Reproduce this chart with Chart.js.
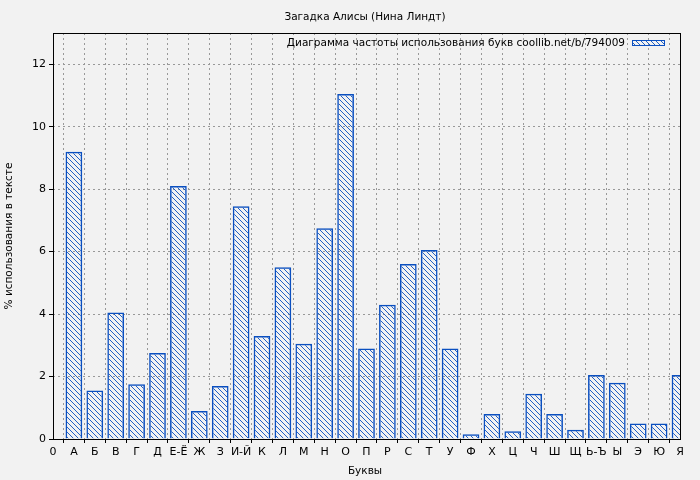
<!DOCTYPE html>
<html><head><meta charset="utf-8">
<script src="https://cdn.jsdelivr.net/npm/chart.js@4/dist/chart.umd.min.js"></script>
<style>body{margin:0;background:#f2f2f2}canvas{display:block}</style>
</head><body>
<div style="width:700px;height:480px"><canvas id="c"></canvas></div>
<script>
const letters = ["0","А","Б","В","Г","Д","Е-Ё","Ж","З","И-Й","К","Л","М","Н","О","П","Р","С","Т","У","Ф","Х","Ц","Ч","Ш","Щ","Ь-Ъ","Ы","Э","Ю","Я"];
const freq = [9.2,1.55,4.05,1.75,2.75,8.1,0.9,1.7,7.45,3.3,5.5,3.05,6.75,11.05,2.9,4.3,5.6,6.05,2.9,0.15,0.8,0.25,1.45,0.8,0.3,2.05,1.8,0.5,0.5,2.05];
const titleText = "Загадка Алисы (Нина Линдт)";
const legendText = "Диаграмма частоты использования букв coollib.net/b/794009";
const blue = "#0a4fc0";
const font = "DejaVu Sans";

// hatch pattern
function hatch() {
  const p = document.createElement("canvas");
  p.width = 5; p.height = 5;
  const g = p.getContext("2d");
  g.strokeStyle = blue; g.lineWidth = 0.9;
  g.beginPath(); g.moveTo(0, 0); g.lineTo(5, 5); g.moveTo(-1, 4); g.lineTo(1, 6); g.moveTo(4, -1); g.lineTo(6, 1); g.stroke();
  return g.createPattern(p, "repeat");
}
const pat = hatch();

const extras = {
  id: "extras",
  afterDraw(chart) {
    const c = chart.ctx, a = chart.chartArea;
    c.save();
    c.strokeStyle = "#000"; c.lineWidth = 1;
    c.strokeRect(a.left + 0.5, a.top + 0.5, a.right - a.left, a.bottom - a.top);
    c.fillStyle = "#000"; c.font = "10.5px " + font; c.textAlign = "center";
    c.fillText(titleText, 365, 20);
    c.fillText("Буквы", 365, 474);
    c.translate(12, 236); c.rotate(-Math.PI / 2);
    c.fillText("% использования в тексте", 0, 0);
    c.restore();
    c.save();
    c.font = "10.5px " + font; c.textAlign = "right"; c.fillStyle = "#000";
    c.fillText(legendText, 625, 46);
    c.fillStyle = pat; c.fillRect(632, 40, 32, 5);
    c.strokeStyle = blue; c.strokeRect(632.5, 40.5, 32, 5);
    c.restore();
  }
};

new Chart(document.getElementById("c"), {
  type: "bar",
  data: {
    datasets: [{
      data: freq.map((v, i) => ({ x: i + 1, y: v })),
      backgroundColor: pat, borderColor: blue, borderWidth: 1.5,
      barPercentage: 0.8, categoryPercentage: 1
    }]
  },
  options: {
    animation: false, responsive: true, maintainAspectRatio: false,
    layout: { padding: { top: 33, right: 20 } },
    plugins: { legend: { display: false }, tooltip: { enabled: false } },
    scales: {
      x: {
        type: "linear", min: 0, max: 30, offset: false,
        afterFit: s => { s.height = 41; },
        afterBuildTicks: s => { s.ticks = letters.map((_, i) => ({ value: i })); },
        ticks: { autoSkip: false, maxRotation: 0, color: "#000", font: { family: font, size: 11 }, callback: v => letters[v] },
        grid: { color: "#999", drawTicks: true, tickLength: 4, tickColor: "#000" },
        border: { display: false, dash: [2, 3] }
      },
      y: {
        min: 0, max: 13,
        afterFit: s => { s.width = 53; },
        afterBuildTicks: s => { s.ticks = [0,2,4,6,8,10,12].map(v => ({ value: v })); },
        ticks: { color: "#000", font: { family: font, size: 11 } },
        grid: { color: "#999", tickLength: 4, tickColor: "#000" },
        border: { display: false, dash: [2, 3] }
      }
    }
  },
  plugins: [extras]
});
</script>
</body></html>
